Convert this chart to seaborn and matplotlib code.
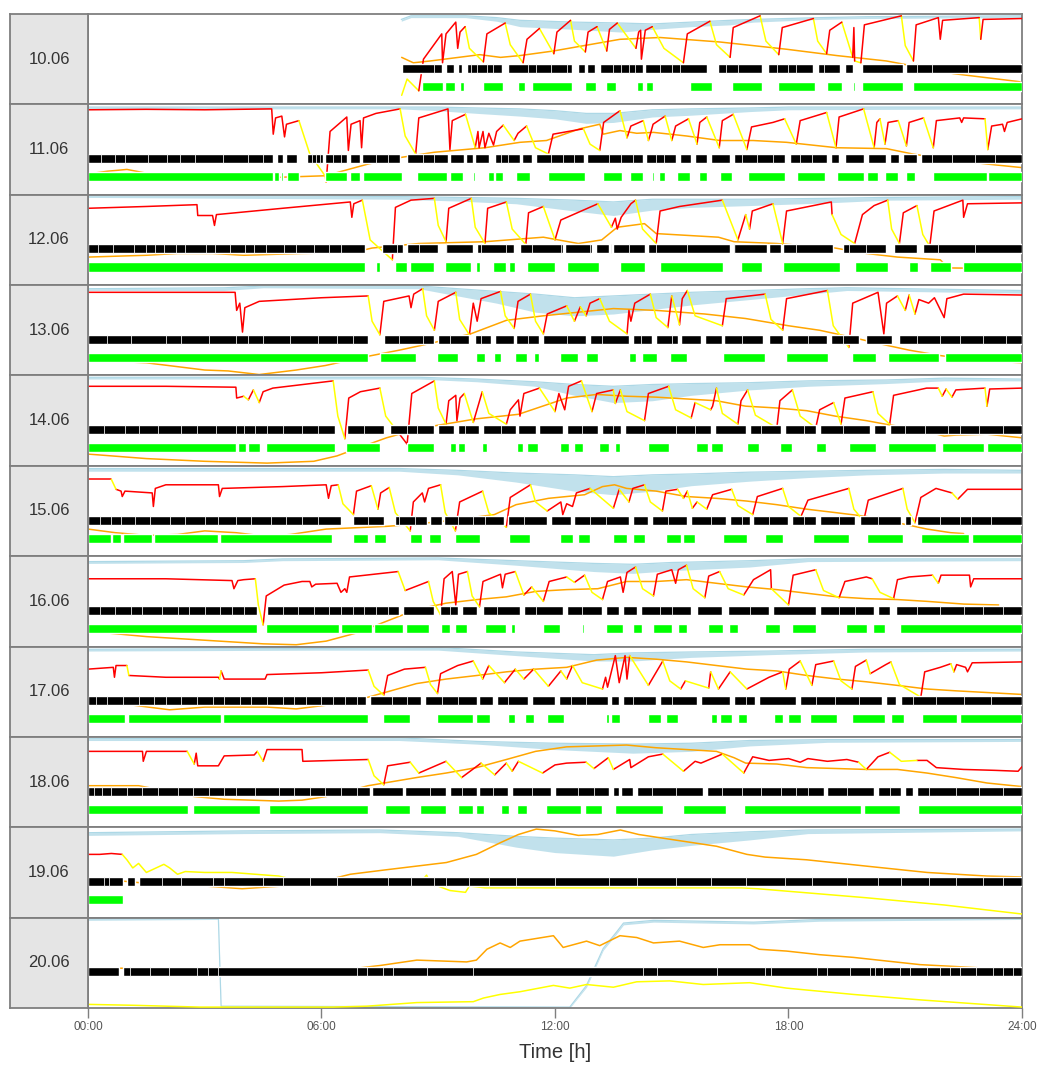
import numpy as np
import pandas as pd
import matplotlib
matplotlib.use("Agg")
import matplotlib.pyplot as plt
import seaborn as sns

sns.set_theme(style="white")
plt.rcParams['font.family'] = ['Liberation Sans', 'DejaVu Sans']

DAYS = ["10.06", "11.06", "12.06", "13.06", "14.06", "15.06", "16.06", "17.06", "18.06", "19.06", "20.06"]
TICK_HOURS = [0, 6, 12, 18, 24]
TICK_LABELS = ["00:00", "06:00", "12:00", "18:00", "24:00"]

# ---------------- 10.06 ----------------
RY_1006 = [(8.06,0.10,'y'),(8.20,0.28,'y'),(8.50,0.15,'r'),(8.62,0.50,'r'),(9.09,0.78,'r'),(9.11,0.46,'r'),(9.20,0.78,'r'),(9.45,0.91,'r'),(9.50,0.62,'r'),(9.56,0.80,'r'),(9.69,0.86,'y'),
           (9.80,0.62,'y'),(10.16,0.47,'r'),(10.25,0.78,'r'),(10.72,0.90,'y'),(10.85,0.66,'y'),(11.18,0.46,'r'),(11.28,0.72,'r'),(11.60,0.84,'y'),(11.97,0.56,'r'),(12.05,0.80,'r'),(12.40,0.93,'y'),
           (12.50,0.70,'y'),(12.78,0.58,'r'),(12.85,0.80,'r'),(13.08,0.86,'y'),(13.33,0.59,'r'),(13.40,0.83,'r'),(13.60,0.90,'y'),(14.08,0.62,'r'),(14.15,0.80,'r'),(14.20,0.82,'r'),(14.22,0.50,'r'),(14.32,0.82,'r'),(14.50,0.86,'y'),
           (14.80,0.62,'y'),(15.30,0.46,'r'),(15.40,0.78,'r'),(15.98,0.92,'y'),(16.15,0.66,'y'),(16.50,0.52,'r'),(16.58,0.85,'r'),(17.27,0.98,'y'),(17.42,0.70,'y'),(17.75,0.55,'r'),(17.84,0.85,'r'),(18.64,0.95,'y'),
           (18.75,0.70,'y'),(18.98,0.56,'r'),(19.06,0.82,'r'),(19.37,0.91,'y'),(19.65,0.52,'r'),(19.68,0.85,'r'),(19.70,0.48,'y'),(19.86,0.46,'r'),(19.95,0.88,'r'),(20.90,0.98,'y'),
           (21.00,0.65,'y'),(21.21,0.48,'r'),(21.28,0.88,'r'),(21.85,0.96,'r'),(21.90,0.72,'r'),(21.96,0.93,'r'),(22.90,0.96,'y'),(22.94,0.72,'r'),(23.00,0.94,'r'),(24.00,0.95,'r')]
OR_1006 = [(8.06,0.52),(8.36,0.46),(8.79,0.48),(10.07,0.55),(10.60,0.52),(11.10,0.54),(11.95,0.59),(13.67,0.72),(14.70,0.74),(16.24,0.69),(17.95,0.61),(19.24,0.54),(20.52,0.48),(21.38,0.41),(22.24,0.34),(23.95,0.25)]
LB_1006 = [(8.05,0.92,0.94),(8.3,0.96,0.98),(9.7,0.96,0.98),(10.5,0.92,0.96),(11.1,0.86,0.93),(12.5,0.83,0.91),(13.7,0.80,0.90),(14.5,0.83,0.89),(15.5,0.86,0.91),(16.5,0.88,0.93),(17.1,0.91,0.94),(18.8,0.94,0.96),(20.0,0.95,0.97),(24.0,0.96,0.98)]
BLK_1006 = [(8.06,9.09),(9.2,9.4),(9.5,9.62),(9.75,10.65),(10.8,12.43),(12.6,12.77),(12.81,13.02),(13.15,14.27),(14.31,15.9),(16.2,17.31),(17.48,18.64),(18.77,19.32),(19.45,19.67),(19.88,20.95),(21.03,24.0)]
GAP_1006 = [8.9,9.85,10.0,10.25,10.4,11.3,11.5,11.9,12.3,13.5,13.7,13.9,14.05,14.7,15.0,15.2,16.4,16.7,17.7,18.0,18.2,18.9,21.3,21.7,22.6]
GRN_1006 = [(8.57,9.12),(9.17,9.43),(9.56,9.67),(10.16,10.67),(11.06,11.23),(11.4,12.43),(12.78,13.05),(13.31,13.58),(14.1,14.27),(14.35,14.53),(15.47,16.03),(16.54,17.31),(17.74,18.68),(18.98,19.37),(19.67,19.70),(19.89,20.95),(21.21,24.0)]

# ---------------- 11.06 ----------------
RY_1106 = [(0,0.94,'r'),(1.5,0.945,'r'),(3.0,0.94,'r'),(4.72,0.95,'r'),(4.76,0.67,'r'),(4.82,0.85,'r'),(4.98,0.87,'r'),(5.05,0.64,'r'),(5.10,0.78,'r'),(5.42,0.82,'y'),(5.7,0.45,'y'),(6.09,0.21,'y'),(6.12,0.14,'r'),
           (6.22,0.70,'r'),(6.65,0.86,'r'),(6.69,0.49,'r'),(6.76,0.78,'r'),(6.99,0.82,'r'),(7.03,0.52,'r'),(7.08,0.85,'r'),(7.4,0.90,'r'),(8.02,0.95,'y'),(8.15,0.65,'y'),(8.42,0.45,'r'),(8.50,0.85,'r'),(9.25,0.95,'r'),
           (9.3,0.50,'r'),(9.36,0.82,'r'),(9.7,0.89,'y'),(9.95,0.52,'r'),(10.02,0.70,'r'),(10.05,0.52,'r'),(10.15,0.70,'r'),(10.2,0.52,'r'),(10.3,0.68,'r'),(10.42,0.55,'r'),(10.5,0.70,'r'),(10.67,0.77,'y'),
           (10.95,0.60,'r'),(11.05,0.68,'r'),(11.27,0.76,'y'),(11.5,0.52,'y'),(11.83,0.45,'r'),(11.95,0.67,'r'),(12.73,0.73,'y'),(12.9,0.56,'y'),(13.15,0.49,'r'),(13.25,0.80,'r'),(13.67,0.93,'y'),(13.85,0.63,'r'),(13.95,0.76,'r'),
           (14.27,0.82,'y'),(14.4,0.60,'r'),(14.45,0.67,'r'),(14.52,0.78,'r'),(14.83,0.87,'y'),(15.0,0.60,'r'),(15.1,0.76,'r'),(15.43,0.84,'y'),(15.65,0.56,'r'),(15.72,0.80,'r'),(15.9,0.86,'y'),
           (16.22,0.52,'r'),(16.3,0.82,'r'),(16.58,0.89,'y'),(16.93,0.50,'r'),(17.05,0.75,'r'),(17.6,0.80,'r'),(17.9,0.84,'y'),(18.2,0.56,'r'),(18.3,0.82,'r'),(18.98,0.91,'y'),(19.22,0.52,'r'),(19.3,0.86,'r'),
           (19.93,0.95,'y'),(20.2,0.52,'r'),(20.27,0.80,'r'),(20.35,0.84,'y'),(20.48,0.56,'r'),(20.56,0.80,'r'),(20.82,0.82,'y'),(21.03,0.54,'r'),(21.1,0.80,'r'),(21.47,0.85,'y'),(21.72,0.52,'r'),(21.8,0.82,'r'),
           (22.4,0.85,'r'),(22.45,0.80,'r'),(22.5,0.85,'r'),(23.05,0.84,'y'),(23.12,0.50,'r'),(23.22,0.76,'r'),(23.5,0.78,'r'),(23.55,0.70,'r'),(23.62,0.80,'r'),(24.0,0.84,'r')]
OR_1106 = [(0,0.23),(0.5,0.26),(1.0,0.28),(1.6,0.23),(2.5,0.20),(4.7,0.19),(6.1,0.21),(7.2,0.34),(8.0,0.41),(8.9,0.47),(10.2,0.52),(11.1,0.58),(11.78,0.60),(12.64,0.73),(13.15,0.78),(13.24,0.67),(13.67,0.71),(14.1,0.68),(14.53,0.69),(15.38,0.65),(16.24,0.60),(17.09,0.60),(17.95,0.58),(18.81,0.54),(19.24,0.52),(20.52,0.51),(21.2,0.45),(21.8,0.41),(23.09,0.34),(24.0,0.30)]
LB_1106 = [(0,0.95,0.97),(8.0,0.95,0.97),(9.0,0.93,0.97),(10.0,0.90,0.96),(11.1,0.87,0.95),(12.0,0.84,0.93),(12.8,0.79,0.90),(13.5,0.80,0.90),(14.5,0.86,0.94),(15.5,0.88,0.95),(17.0,0.92,0.96),(18.0,0.94,0.97),(24.0,0.95,0.97)]
BLK_1106 = [(0,4.76),(4.85,5.02),(5.1,5.37),(5.63,6.05),(6.1,6.65),(6.72,7.0),(7.05,8.02),(8.2,9.25),(9.3,9.65),(9.72,9.9),(9.95,10.3),(10.45,11.1),(11.15,11.4),(11.5,12.75),(12.82,14.27),(14.35,15.1),(15.2,15.5),(15.6,15.9),(16.0,16.5),(16.6,17.9),(18.05,19.0),(19.1,19.3),(19.45,19.95),(20.05,20.5),(20.6,20.85),(20.95,21.3),(21.4,24.0)]
GAP_1106 = [0.33,0.69,0.95,1.55,2.02,2.37,2.75,3.48,4.12,4.5,5.75,5.85,5.95,6.3,6.5,7.4,7.7,8.6,8.9,10.6,10.8,11.9,12.2,12.5,13.4,13.7,14.0,14.6,14.8,16.8,17.2,17.6,18.3,18.6,21.7,22.2,22.8,23.3]
GRN_1106 = [(0,4.76),(4.78,4.92),(4.96,5.02),(5.12,5.41),(6.09,6.65),(6.73,6.99),(7.07,8.06),(8.45,9.22),(9.3,9.64),(9.9,9.95),(10.05,10.08),(10.29,10.42),(10.46,10.67),(11.0,11.36),(11.83,12.77),(13.24,13.71),(13.93,14.27),(14.5,14.55),(14.66,14.83),(15.13,15.47),(15.69,15.9),(16.24,16.54),(16.97,17.91),(18.21,18.94),(19.24,19.93),(20.02,20.31),(20.48,20.82),(21.03,21.25),(21.72,23.09),(23.13,24.0)]

# ---------------- 12.06 ----------------
RY_1206 = [(0,0.85,'r'),(1.5,0.87,'r'),(2.8,0.89,'r'),(2.82,0.77,'r'),(3.2,0.77,'r'),(3.25,0.66,'r'),(3.3,0.78,'r'),(5.0,0.85,'r'),(6.74,0.92,'r'),(6.78,0.75,'r'),(6.83,0.90,'r'),(7.05,0.94,'y'),(7.25,0.50,'y'),(7.82,0.28,'r'),
           (7.90,0.86,'r'),(8.3,0.94,'r'),(8.9,0.96,'y'),(9.0,0.66,'y'),(9.2,0.48,'r'),(9.27,0.85,'r'),(9.85,0.96,'y'),(9.95,0.64,'y'),(10.2,0.46,'r'),(10.27,0.85,'r'),(10.75,0.92,'y'),(10.9,0.62,'y'),(11.25,0.45,'r'),(11.32,0.80,'r'),(11.7,0.87,'y'),
           (12.0,0.50,'r'),(12.15,0.72,'r'),(13.1,0.90,'y'),(13.45,0.64,'r'),(13.55,0.74,'r'),(13.6,0.62,'r'),(13.7,0.75,'r'),(13.95,0.90,'r'),(14.07,0.94,'y'),(14.25,0.62,'y'),(14.6,0.46,'r'),(14.7,0.82,'r'),(15.2,0.87,'r'),
           (16.3,0.94,'y'),(16.7,0.50,'r'),(16.9,0.78,'y'),(17.0,0.62,'r'),(17.07,0.82,'r'),(17.6,0.90,'y'),(17.85,0.46,'r'),(17.95,0.82,'r'),(19.1,0.92,'r'),(19.12,0.78,'y'),(19.35,0.56,'y'),(19.7,0.46,'r'),(19.9,0.78,'r'),
           (20.2,0.88,'r'),(20.55,0.94,'y'),(20.65,0.62,'y'),(20.85,0.46,'r'),(20.95,0.80,'r'),(21.3,0.88,'y'),(21.45,0.56,'y'),(21.63,0.43,'r'),(21.74,0.82,'r'),(22.48,0.94,'r'),(22.5,0.75,'r'),(22.6,0.90,'r'),(24.0,0.91,'r')]
OR_1206 = [(0,0.31),(1.5,0.33),(2.3,0.35),(3.2,0.35),(4.0,0.33),(5.5,0.35),(6.8,0.36),(7.3,0.41),(8.5,0.46),(10.2,0.48),(11.4,0.52),(11.7,0.53),(12.6,0.46),(13.2,0.50),(13.6,0.64),(14.3,0.68),(14.6,0.57),(15.4,0.55),(16.2,0.53),(16.6,0.48),(17.7,0.46),(19.2,0.41),(20.0,0.35),(20.8,0.31),(21.9,0.28),(22.1,0.19),(24.0,0.18)]
LB_1206 = [(0,0.97,0.99),(4,0.96,0.99),(8,0.95,0.98),(9.5,0.93,0.97),(11,0.90,0.96),(12.5,0.82,0.94),(13.5,0.77,0.92),(14.5,0.83,0.95),(15.5,0.86,0.95),(17,0.88,0.95),(19,0.91,0.96),(20.5,0.94,0.97),(24,0.95,0.98)]
BLK_1206 = [(0,7.12),(7.55,8.1),(8.2,9.0),(9.2,9.9),(10.0,10.95),(11.1,12.2),(12.25,12.95),(13.05,13.4),(13.5,14.3),(14.4,16.5),(16.6,17.45),(17.5,17.8),(17.85,19.15),(19.4,20.5),(20.7,21.3),(21.45,24.0)]
GAP_1206 = [0.26,0.64,1.18,1.49,1.72,1.96,2.26,2.5,3.04,3.27,3.65,4.04,4.27,4.58,5.04,5.35,5.8,6.2,6.5,7.95,8.5,9.2,10.1,10.75,11.4,12.15,12.9,13.45,13.9,14.6,15.4,16.6,18.2,19.55,20.0,21.85,22.8]
GRN_1206 = [(0,7.13),(7.4,7.5),(7.9,8.2),(8.28,8.9),(9.18,9.83),(9.98,10.06),(10.41,10.75),(10.83,10.98),(11.29,11.99),(12.3,13.14),(13.68,14.3),(14.69,16.31),(16.77,17.31),(17.85,19.32),(19.7,20.55),(21.09,21.32),(21.63,22.17),(22.48,24.0)]

# ---------------- 13.06 ----------------
RY_1306 = [(0,0.92,'r'),(2.0,0.92,'r'),(3.78,0.92,'r'),(3.82,0.72,'r'),(3.9,0.80,'r'),(3.97,0.48,'r'),(4.03,0.75,'r'),(4.4,0.82,'r'),(6.0,0.86,'r'),(7.2,0.88,'y'),(7.3,0.60,'y'),(7.5,0.45,'r'),(7.6,0.82,'r'),(8.25,0.88,'r'),
           (8.3,0.75,'r'),(8.37,0.90,'r'),(8.6,0.96,'y'),(8.7,0.66,'y'),(8.9,0.50,'r'),(9.0,0.82,'r'),(9.45,0.92,'y'),(9.55,0.62,'y'),(9.8,0.45,'r'),(9.9,0.80,'r'),(10.0,0.60,'r'),(10.1,0.85,'r'),(10.6,0.93,'y'),(10.72,0.66,'y'),(10.95,0.52,'r'),
           (11.05,0.82,'r'),(11.37,0.90,'y'),(11.5,0.60,'y'),(11.7,0.46,'r'),(11.8,0.68,'r'),(12.3,0.77,'y'),(12.5,0.60,'r'),(12.65,0.76,'y'),(12.8,0.66,'r'),(12.9,0.80,'r'),(13.15,0.85,'y'),(13.4,0.60,'y'),(13.85,0.46,'r'),(13.9,0.72,'r'),
           (13.95,0.60,'r'),(14.05,0.80,'r'),(14.45,0.90,'y'),(14.6,0.64,'y'),(14.9,0.53,'r'),(15.0,0.88,'y'),(15.2,0.56,'r'),(15.27,0.85,'r'),(15.4,0.94,'y'),(15.6,0.66,'y'),(16.3,0.55,'r'),(16.4,0.85,'r'),(17.4,0.90,'y'),(17.55,0.62,'y'),(17.85,0.50,'r'),
           (17.95,0.85,'r'),(19.0,0.94,'y'),(19.15,0.55,'y'),(19.55,0.31,'r'),(19.65,0.80,'r'),(20.3,0.92,'r'),(20.45,0.46,'r'),(20.52,0.80,'r'),(20.8,0.88,'y'),(21.0,0.72,'r'),(21.1,0.89,'y'),(21.25,0.68,'r'),(21.35,0.84,'r'),
           (21.6,0.80,'r'),(21.75,0.86,'r'),(22.0,0.64,'r'),(22.07,0.85,'r'),(22.5,0.90,'r'),(24.0,0.89,'r')]
OR_1306 = [(0,0.17),(1.5,0.14),(3.0,0.06),(3.6,0.05),(4.4,0.01),(5.35,0.06),(6.1,0.11),(7.05,0.20),(8.0,0.28),(8.75,0.35),(9.83,0.46),(10.75,0.61),(11.7,0.66),(12.6,0.70),(13.5,0.74),(14.6,0.72),(15.85,0.68),(16.9,0.63),(18.0,0.55),(18.8,0.50),(19.55,0.43),(20.35,0.35),(21.1,0.28),(21.9,0.22),(22.8,0.17),(24.0,0.14)]
LB_1306 = [(0,0.94,0.96),(3.5,0.94,0.97),(4.5,0.97,0.99),(8.5,0.96,0.99),(9.5,0.88,0.96),(10.5,0.80,0.93),(11.5,0.70,0.90),(12.5,0.66,0.86),(13.5,0.68,0.88),(14.5,0.73,0.90),(15.5,0.78,0.92),(17.0,0.84,0.94),(18.5,0.90,0.96),(19.5,0.94,0.97),(24.0,0.91,0.94)]
BLK_1306 = [(0,7.2),(7.6,8.9),(9.0,9.8),(9.95,10.35),(10.45,10.95),(11.0,11.6),(11.7,12.8),(12.9,13.9),(14.0,14.5),(14.6,15.15),(15.25,15.75),(15.85,16.3),(16.35,17.35),(17.5,17.85),(17.95,19.0),(19.1,19.8),(20.0,20.65),(20.85,24.0)]
GAP_1306 = [0.5,1.1,2.0,2.4,3.1,3.8,4.1,4.5,5.2,5.9,6.4,6.8,8.0,8.6,9.3,10.1,11.3,12.3,13.2,14.2,15.0,16.8,18.5,19.4,21.3,21.9,22.4,23.0,23.6]
GRN_1306 = [(0,7.2),(7.51,8.44),(8.98,9.52),(9.98,10.21),(10.44,10.6),(10.98,11.29),(11.45,11.6),(12.14,12.6),(12.8,13.1),(13.9,14.07),(14.23,14.61),(14.95,15.38),(16.31,17.39),(17.93,19.01),(19.63,20.24),(20.55,21.86),(22.02,24.0)]

# ---------------- 14.06 ----------------
RY_1406 = [(0,0.88,'r'),(2.0,0.88,'r'),(3.8,0.87,'r'),(3.82,0.75,'r'),(4.0,0.77,'y'),(4.12,0.73,'r'),(4.25,0.84,'y'),(4.4,0.70,'r'),(4.5,0.82,'r'),(4.75,0.86,'r'),(6.3,0.94,'y'),(6.42,0.55,'y'),(6.6,0.30,'r'),
           (6.7,0.75,'r'),(7.0,0.82,'r'),(7.5,0.86,'y'),(7.65,0.55,'y'),(7.97,0.37,'r'),(8.2,0.24,'r'),(8.32,0.80,'r'),(8.9,0.94,'y'),(9.0,0.64,'y'),(9.2,0.46,'r'),(9.27,0.72,'r'),(9.45,0.78,'r'),(9.48,0.50,'r'),(9.56,0.75,'r'),
           (9.67,0.80,'y'),(9.9,0.48,'r'),(10.13,0.82,'y'),(10.3,0.58,'y'),(10.75,0.46,'r'),(10.85,0.62,'r'),(11.06,0.73,'r'),(11.1,0.55,'r'),(11.2,0.80,'r'),(11.6,0.86,'y'),(12.0,0.60,'r'),(12.1,0.80,'r'),
           (12.25,0.62,'r'),(12.35,0.88,'r'),(12.68,0.94,'y'),(12.95,0.60,'r'),(13.07,0.80,'r'),(13.5,0.84,'y'),(13.55,0.69,'r'),(13.68,0.84,'y'),(13.85,0.60,'y'),(14.3,0.50,'r'),(14.4,0.80,'r'),(14.92,0.88,'y'),
           (15.1,0.62,'y'),(15.5,0.53,'r'),(15.6,0.70,'y'),(16.0,0.62,'r'),(16.05,0.66,'r'),(16.15,0.86,'y'),(16.3,0.58,'y'),(16.7,0.46,'r'),(16.78,0.72,'r'),(16.95,0.84,'y'),(17.15,0.56,'y'),(17.7,0.42,'r'),(17.78,0.72,'r'),(18.1,0.84,'y'),
           (18.3,0.55,'y'),(18.7,0.42,'r'),(18.8,0.62,'r'),(19.16,0.70,'y'),(19.35,0.46,'r'),(19.45,0.75,'r'),(20.17,0.82,'y'),(20.3,0.58,'y'),(20.6,0.46,'r'),(20.7,0.78,'r'),(21.55,0.86,'r'),(21.85,0.86,'y'),(21.95,0.77,'r'),
           (22.05,0.85,'y'),(22.2,0.76,'r'),(22.3,0.84,'r'),(23.05,0.86,'y'),(23.1,0.66,'r'),(23.17,0.85,'r'),(24.0,0.86,'r')]
OR_1406 = [(0,0.13),(1.5,0.08),(3.0,0.05),(4.6,0.03),(5.8,0.05),(6.4,0.11),(6.9,0.19),(7.67,0.31),(8.59,0.42),(9.98,0.52),(11.06,0.57),(11.68,0.66),(12.3,0.75),(13.07,0.79),(13.84,0.77),(14.6,0.76),(15.38,0.74),(16.15,0.72),(16.9,0.66),(17.7,0.64),(18.47,0.61),(19.2,0.55),(20.0,0.50),(20.5,0.46),(21.25,0.41),(22.0,0.33),(22.3,0.34),(23.1,0.35),(24.0,0.31)]
LB_1406 = [(0,0.96,0.98),(8.5,0.96,0.98),(10,0.93,0.96),(11.5,0.88,0.93),(12.5,0.78,0.90),(13.5,0.70,0.88),(14.5,0.72,0.90),(15.5,0.78,0.91),(17,0.84,0.92),(18.5,0.88,0.94),(20.5,0.91,0.95),(22,0.94,0.97),(24,0.94,0.96)]
BLK_1406 = [(0,6.35),(6.66,7.6),(7.75,8.9),(9.0,9.4),(9.5,10.05),(10.15,11.0),(11.05,11.5),(11.6,12.2),(12.3,13.1),(13.2,13.7),(13.8,16.0),(16.1,16.9),(17.0,17.8),(17.9,18.7),(18.8,20.1),(20.2,20.5),(20.6,24.0)]
GAP_1406 = [0.4,0.95,1.3,1.8,2.4,2.8,3.3,3.8,4.0,4.3,4.6,5.0,5.5,5.9,7.1,8.2,8.45,9.7,10.6,12.7,13.5,14.3,15.1,15.6,17.3,18.4,19.4,21.0,21.5,22.1,22.4,22.9,23.5]
GRN_1406 = [(0,3.8),(3.85,4.05),(4.1,4.42),(4.58,6.35),(6.62,7.51),(8.2,8.9),(9.29,9.46),(9.52,9.7),(10.13,10.26),(11.03,11.18),(11.29,11.56),(12.14,12.37),(12.48,12.73),(13.14,13.38),(13.53,13.68),(14.38,14.92),(15.62,15.92),(16.0,16.31),(16.93,17.23),(17.78,18.08),(18.7,18.96),(19.55,20.24),(20.55,21.79),(21.94,23.02),(23.1,24.0)]

# ---------------- 15.06 ----------------
RY_1506 = [(0,0.85,'r'),(0.6,0.85,'y'),(0.72,0.74,'r'),(0.85,0.72,'r'),(0.88,0.66,'r'),(0.95,0.72,'r'),(1.65,0.70,'r'),(1.68,0.55,'r'),(1.73,0.75,'r'),(2.0,0.79,'r'),(3.35,0.79,'r'),(3.38,0.66,'r'),
           (3.45,0.75,'r'),(5.0,0.77,'r'),(6.12,0.79,'r'),(6.18,0.64,'r'),(6.25,0.78,'r'),(6.43,0.79,'y'),(6.55,0.58,'y'),(6.82,0.46,'r'),(6.9,0.72,'r'),(7.28,0.78,'y'),(7.45,0.52,'r'),(7.52,0.70,'r'),(7.74,0.76,'y'),
           (7.9,0.48,'y'),(8.28,0.28,'r'),(8.36,0.60,'r'),(8.59,0.70,'r'),(8.65,0.60,'r'),(8.75,0.75,'r'),(9.06,0.79,'y'),(9.18,0.48,'y'),(9.44,0.28,'r'),(9.55,0.60,'r'),(10.14,0.72,'y'),(10.3,0.48,'y'),(10.75,0.32,'r'),(10.85,0.65,'r'),(11.37,0.79,'y'),
           (11.5,0.60,'y'),(11.8,0.50,'r'),(12.15,0.60,'r'),(12.2,0.46,'r'),(12.3,0.58,'r'),(12.45,0.55,'r'),(12.55,0.70,'r'),(12.9,0.75,'y'),(13.5,0.53,'r'),(13.65,0.74,'y'),(13.9,0.60,'r'),(14.0,0.75,'r'),(14.3,0.79,'y'),
           (14.45,0.60,'y'),(14.76,0.50,'r'),(14.85,0.72,'r'),(15.15,0.74,'y'),(15.3,0.64,'r'),(15.4,0.72,'y'),(15.53,0.53,'r'),(15.65,0.60,'y'),(15.9,0.52,'r'),(16.05,0.68,'r'),(16.54,0.74,'y'),(16.7,0.56,'y'),(17.08,0.46,'r'),(17.2,0.66,'r'),
           (17.85,0.75,'y'),(18.0,0.55,'y'),(18.32,0.44,'r'),(18.5,0.62,'r'),(19.55,0.75,'y'),(19.68,0.52,'y'),(19.93,0.39,'r'),(20.05,0.62,'r'),(20.94,0.75,'y'),(21.05,0.52,'y'),(21.25,0.37,'r'),(21.4,0.65,'r'),(21.79,0.75,'r'),(22.2,0.70,'y'),(22.35,0.63,'r'),
           (22.6,0.74,'r'),(24.0,0.74,'r')]
OR_1506 = [(0,0.30),(0.7,0.26),(1.5,0.23),(2.3,0.24),(3.0,0.28),(3.8,0.26),(4.58,0.22),(5.2,0.24),(6.12,0.30),(7.67,0.33),(8.28,0.35),(9.2,0.39),(10.44,0.46),(11.0,0.57),(11.83,0.64),(12.76,0.68),(13.22,0.77),(13.53,0.79),(13.84,0.75),(14.6,0.72),(15.38,0.66),(16.15,0.64),(16.93,0.61),(17.7,0.57),(18.47,0.52),(19.25,0.48),(20.0,0.44),(20.8,0.37),(21.56,0.30),(22.17,0.26),(22.5,0.25)]
LB_1506 = [(0,0.94,0.97),(8,0.94,0.97),(9.5,0.90,0.95),(11,0.82,0.92),(12.5,0.72,0.90),(13.5,0.68,0.88),(14.5,0.72,0.90),(15.5,0.78,0.91),(17,0.83,0.93),(18.5,0.87,0.94),(20,0.90,0.95),(22,0.92,0.96),(24,0.92,0.95)]
BLK_1506 = [(0,6.5),(6.8,7.6),(7.9,8.7),(8.8,9.1),(9.15,10.7),(10.8,11.8),(11.9,12.4),(12.5,13.9),(14.0,14.4),(14.5,15.4),(15.5,16.4),(16.5,17.0),(17.1,18.0),(18.1,18.7),(18.8,19.7),(19.85,20.9),(21.0,21.15),(21.3,24.0)]
GAP_1506 = [0.3,0.6,0.85,1.2,1.6,2.1,2.5,3.0,3.35,3.8,4.2,4.7,5.1,5.5,5.9,7.2,8.0,8.4,9.5,9.9,10.2,11.2,12.9,13.3,14.9,16.0,16.8,17.5,18.4,19.3,20.3,21.9,22.4,22.7,23.2]
GRN_1506 = [(0,0.58),(0.62,0.85),(0.9,1.65),(1.7,3.35),(3.4,6.28),(6.82,7.2),(7.36,7.67),(8.28,8.59),(8.75,9.06),(9.44,10.06),(10.83,11.37),(12.14,12.45),(12.6,12.91),(13.5,13.84),(14.0,14.3),(14.84,15.23),(15.3,15.6),(16.31,16.93),(17.39,17.85),(18.62,19.55),(20.01,20.94),(21.4,22.63),(22.71,24.0)]

# ---------------- 16.06 ----------------
RY_1606 = [(0,0.75,'r'),(2.0,0.75,'r'),(3.7,0.73,'r'),(3.75,0.64,'r'),(3.85,0.73,'r'),(4.0,0.74,'r'),(4.3,0.75,'y'),(4.38,0.45,'y'),(4.5,0.24,'r'),(4.58,0.56,'r'),(5.04,0.68,'r'),(5.5,0.72,'r'),(5.7,0.72,'r'),
           (5.75,0.66,'r'),(5.85,0.69,'r'),(6.4,0.70,'r'),(6.5,0.60,'r'),(6.6,0.64,'r'),(6.65,0.60,'r'),(6.72,0.77,'r'),(7.97,0.83,'y'),(8.15,0.62,'r'),(8.75,0.72,'y'),(8.87,0.50,'y'),(9.06,0.35,'r'),(9.15,0.75,'r'),
           (9.36,0.83,'r'),(9.45,0.46,'r'),(9.52,0.80,'r'),(9.75,0.83,'y'),(9.87,0.56,'y'),(10.06,0.44,'r'),(10.15,0.72,'r'),(10.6,0.80,'r'),(10.65,0.65,'r'),(10.72,0.80,'r'),(10.98,0.83,'y'),(11.2,0.57,'r'),(11.4,0.66,'y'),
           (11.7,0.50,'r'),(11.85,0.72,'r'),(12.3,0.77,'y'),(12.5,0.71,'r'),(12.76,0.79,'y'),(12.95,0.60,'y'),(13.22,0.52,'r'),(13.35,0.72,'r'),(13.68,0.77,'r'),(13.75,0.60,'r'),(13.85,0.82,'r'),(14.07,0.88,'y'),(14.25,0.64,'y'),(14.53,0.56,'r'),
           (14.63,0.80,'r'),(15.0,0.85,'r'),(15.1,0.70,'r'),(15.17,0.85,'r'),(15.38,0.90,'y'),(15.55,0.64,'y'),(15.85,0.54,'r'),(15.95,0.78,'r'),(16.23,0.83,'y'),(16.45,0.64,'y'),(16.85,0.57,'r'),(17.1,0.74,'r'),(17.54,0.85,'r'),(17.56,0.64,'y'),
           (18.0,0.46,'r'),(18.12,0.79,'r'),(18.7,0.85,'y'),(18.9,0.62,'y'),(19.3,0.54,'r'),(19.45,0.72,'r'),(20.0,0.77,'r'),(20.15,0.75,'y'),(20.35,0.60,'y'),(20.7,0.53,'r'),(20.8,0.74,'r'),(21.1,0.77,'r'),(21.7,0.79,'y'),(21.85,0.70,'r'),
           (21.92,0.79,'r'),(22.65,0.79,'r'),(22.68,0.66,'r'),(22.76,0.75,'r'),(24.0,0.75,'r')]
OR_1606 = [(0,0.17),(1.5,0.11),(3.0,0.07),(4.5,0.03),(5.35,0.02),(6.12,0.06),(6.9,0.15),(7.67,0.28),(8.44,0.41),(9.2,0.48),(10.0,0.52),(10.75,0.55),(11.5,0.61),(12.3,0.63),(13.1,0.64),(13.84,0.72),(14.6,0.72),(15.38,0.74),(16.15,0.70),(16.93,0.66),(17.7,0.63),(18.47,0.59),(19.25,0.55),(20.0,0.53),(20.8,0.52),(21.56,0.50),(22.5,0.47),(23.4,0.46)]
LB_1606 = [(0,0.92,0.94),(4,0.93,0.95),(5,0.95,0.97),(9,0.96,0.98),(11,0.90,0.95),(13,0.83,0.92),(14,0.81,0.91),(15,0.84,0.93),(17,0.88,0.95),(18.5,0.94,0.97),(24,0.95,0.97)]
BLK_1606 = [(0,4.35),(4.6,8.0),(8.1,8.9),(9.05,9.5),(9.6,10.0),(10.15,11.1),(11.2,12.2),(12.3,13.2),(13.3,13.65),(13.75,14.1),(14.2,15.5),(15.65,16.3),(16.45,17.5),(17.6,18.7),(18.8,20.2),(20.3,20.6),(20.75,24.0)]
GAP_1606 = [0.3,0.7,1.1,1.4,1.9,2.3,2.6,3.0,3.4,3.7,4.0,5.0,5.4,5.8,6.2,6.5,6.8,7.1,7.4,7.7,9.3,10.5,11.5,12.7,14.7,15.0,17.0,19.3,19.7,21.3,21.9,22.5,23.0,23.5]
GRN_1606 = [(0,4.35),(4.58,6.45),(6.5,7.3),(7.35,8.1),(8.16,8.75),(9.06,9.29),(9.44,9.75),(10.21,10.75),(10.88,10.98),(11.2,11.24),(11.68,12.14),(12.7,12.75),(13.3,13.76),(14.0,14.23),(14.53,15.0),(15.15,15.38),(15.92,16.31),(16.46,16.69),(17.39,17.78),(18.08,18.7),(19.47,20.01),(20.17,20.48),(20.86,24.0)]

# ---------------- 17.06 ----------------
RY_1706 = [(0,0.75,'r'),(0.65,0.77,'r'),(0.68,0.66,'r'),(0.72,0.79,'r'),(1.0,0.79,'y'),(1.05,0.68,'r'),(2.0,0.66,'r'),(3.35,0.66,'r'),(3.38,0.64,'y'),(3.42,0.73,'r'),(3.5,0.64,'r'),(4.55,0.64,'r'),
           (4.6,0.69,'r'),(6.0,0.71,'r'),(7.2,0.74,'y'),(7.35,0.56,'y'),(7.6,0.46,'r'),(7.7,0.68,'r'),(8.13,0.75,'r'),(8.67,0.77,'y'),(8.8,0.58,'y'),(8.98,0.48,'r'),(9.06,0.70,'r'),(9.5,0.79,'r'),(9.9,0.84,'y'),(10.14,0.64,'r'),
           (10.3,0.79,'y'),(10.7,0.60,'r'),(10.98,0.75,'y'),(11.2,0.64,'r'),(11.45,0.75,'y'),(11.83,0.56,'r'),(12.15,0.73,'y'),(12.3,0.64,'r'),(12.45,0.79,'y'),(12.7,0.60,'y'),(13.22,0.53,'r'),(13.3,0.66,'r'),(13.35,0.55,'r'),
           (13.55,0.90,'r'),(13.65,0.60,'r'),(13.8,0.90,'r'),(13.85,0.64,'r'),(13.92,0.90,'y'),(14.4,0.57,'r'),(14.77,0.84,'y'),(14.95,0.62,'y'),(15.23,0.53,'r'),(15.35,0.62,'y'),(15.95,0.54,'r'),(16.0,0.72,'y'),(16.2,0.53,'r'),
           (16.5,0.72,'y'),(16.93,0.53,'r'),(17.5,0.66,'r'),(17.85,0.72,'y'),(17.93,0.53,'r'),(18.02,0.75,'r'),(18.3,0.84,'y'),(18.6,0.57,'r'),(18.7,0.80,'r'),(19.16,0.84,'y'),(19.35,0.62,'y'),(19.63,0.53,'r'),(19.72,0.78,'r'),
           (20.0,0.85,'y'),(20.1,0.70,'r'),(20.5,0.80,'r'),(20.63,0.83,'y'),(20.85,0.58,'y'),(21.4,0.44,'r'),(21.5,0.72,'r'),(21.9,0.77,'r'),(22.17,0.81,'y'),(22.25,0.72,'r'),(22.32,0.80,'r'),(22.55,0.77,'r'),(22.6,0.72,'r'),
           (22.72,0.82,'r'),(24.0,0.83,'r')]
OR_1706 = [(0,0.36),(1.0,0.36),(2.1,0.30),(3.0,0.33),(4.6,0.33),(5.35,0.31),(6.1,0.35),(7.2,0.44),(7.7,0.50),(8.44,0.59),(9.2,0.64),(10.0,0.68),(10.75,0.72),(11.5,0.75),(12.3,0.77),(13.07,0.85),(13.84,0.88),(14.6,0.86),(15.38,0.83),(16.15,0.79),(16.93,0.75),(17.7,0.73),(18.47,0.68),(19.25,0.64),(20.0,0.61),(20.8,0.57),(21.56,0.53),(22.3,0.51),(24.0,0.47)]
LB_1706 = [(0,0.95,0.97),(6,0.96,0.98),(9,0.96,0.99),(11,0.90,0.94),(13,0.84,0.91),(14,0.84,0.93),(15.5,0.88,0.94),(17.5,0.91,0.95),(20,0.94,0.97),(24,0.95,0.97)]
BLK_1706 = [(0,7.15),(7.25,8.55),(8.65,10.0),(10.05,10.4),(10.5,11.3),(11.4,12.0),(12.1,13.35),(13.45,13.65),(13.75,14.6),(14.7,15.65),(15.75,16.5),(16.6,17.15),(17.25,18.2),(18.3,20.4),(20.5,20.75),(20.9,24.0)]
GAP_1706 = [0.2,0.5,0.9,1.3,1.7,2.0,2.4,2.8,3.2,3.5,3.9,4.2,4.6,5.0,5.3,5.6,6.0,6.3,6.6,6.9,7.8,8.2,9.1,9.5,10.8,12.4,12.8,14.0,15.0,16.9,18.7,19.2,19.8,21.2,21.8,22.5,23.2]
GRN_1706 = [(0,0.95),(1.03,3.42),(3.47,7.2),(7.59,8.28),(8.98,9.9),(9.98,10.32),(10.78,10.98),(11.22,11.45),(11.8,12.22),(13.3,13.4),(13.45,13.68),(14.38,14.73),(14.84,15.15),(16.0,16.15),(16.23,16.54),(16.69,16.93),(17.62,17.85),(18.0,18.31),(18.55,19.24),(19.63,20.48),(20.63,20.97),(21.43,22.33),(22.4,24.0)]

# ---------------- 18.06 ----------------
RY_1806 = [(0,0.84,'r'),(1.4,0.84,'r'),(1.42,0.73,'r'),(1.5,0.84,'r'),(2.55,0.84,'y'),(2.73,0.70,'r'),(2.78,0.82,'r'),(2.82,0.68,'r'),(3.35,0.68,'r'),(3.5,0.79,'r'),(4.27,0.80,'r'),(4.35,0.84,'y'),
           (4.5,0.73,'r'),(4.6,0.86,'r'),(5.5,0.86,'r'),(5.52,0.73,'r'),(7.2,0.75,'y'),(7.35,0.57,'y'),(7.6,0.47,'r'),(7.7,0.68,'r'),(8.28,0.72,'y'),(8.5,0.60,'r'),(9.2,0.73,'y'),(9.6,0.55,'r'),(10.1,0.71,'y'),
           (10.45,0.58,'r'),(10.75,0.71,'y'),(10.9,0.62,'r'),(11.06,0.73,'y'),(11.68,0.60,'r'),(12.0,0.69,'r'),(12.3,0.71,'r'),(12.8,0.72,'y'),(13.0,0.65,'r'),(13.37,0.77,'y'),(13.5,0.64,'r'),(13.92,0.75,'r'),
           (13.95,0.66,'r'),(14.4,0.78,'r'),(14.77,0.81,'y'),(15.3,0.62,'r'),(15.6,0.73,'r'),(15.75,0.71,'r'),(16.3,0.81,'y'),(16.85,0.60,'r'),(17.08,0.78,'r'),(17.5,0.74,'r'),(18.0,0.76,'r'),(18.3,0.72,'r'),
           (18.5,0.76,'r'),(19.0,0.73,'r'),(19.5,0.75,'r'),(19.8,0.72,'y'),(20.0,0.64,'r'),(20.3,0.78,'r'),(20.6,0.83,'y'),(20.9,0.73,'y'),(21.3,0.74,'r'),(21.56,0.74,'r'),(21.8,0.66,'r'),(22.5,0.64,'r'),
           (23.3,0.63,'r'),(23.9,0.62,'r'),(24.0,0.67,'r')]
OR_1806 = [(0,0.46),(1.3,0.46),(1.8,0.42),(2.73,0.34),(3.5,0.31),(4.9,0.29),(5.5,0.30),(6.12,0.34),(7.2,0.46),(8.44,0.55),(9.2,0.60),(9.98,0.66),(10.75,0.75),(11.5,0.84),(12.3,0.89),(13.07,0.90),(13.84,0.91),(14.6,0.88),(15.38,0.86),(16.15,0.84),(16.6,0.77),(16.9,0.71),(17.7,0.70),(18.47,0.66),(19.25,0.65),(20.0,0.64),(20.8,0.64),(21.56,0.60),(22.3,0.55),(23.1,0.49),(24.0,0.45)]
LB_1806 = [(0,0.96,0.98),(8,0.96,0.99),(10,0.92,0.95),(12,0.86,0.93),(14,0.82,0.92),(15.5,0.84,0.93),(17,0.90,0.96),(19,0.94,0.97),(24,0.95,0.97)]
BLK_1806 = [(0,7.25),(7.3,8.1),(8.15,9.2),(9.3,10.0),(10.05,10.8),(10.9,11.9),(12.0,13.4),(13.5,13.65),(13.7,14.0),(14.1,15.8),(15.9,18.9),(19.0,20.2),(20.3,20.9),(21.0,21.2),(21.3,24.0)]
GAP_1806 = [0.15,0.35,0.6,1.0,1.4,1.8,2.3,2.7,3.1,3.5,3.8,4.3,4.9,5.3,5.7,6.1,6.5,6.9,8.8,9.6,10.4,11.4,12.6,13.0,14.5,15.1,16.3,16.8,17.3,17.8,18.2,18.5,19.5,20.6,21.6,22.3,22.9,23.5]
GRN_1806 = [(0,2.57),(2.7,4.43),(4.66,7.2),(7.64,8.28),(8.52,9.21),(9.52,9.9),(9.98,10.17),(10.6,10.83),(11.03,11.29),(11.76,12.68),(12.76,13.22),(13.53,14.77),(15.3,16.39),(16.85,19.86),(19.93,20.86),(21.32,24.0)]

# ---------------- 19.06 ----------------
RY_1906 = [(0,0.70,'r'),(0.3,0.70,'r'),(0.6,0.71,'r'),(0.88,0.70,'y'),(1.0,0.64,'y'),(1.15,0.55,'y'),(1.3,0.60,'y'),(1.5,0.50,'y'),(1.95,0.59,'y'),(2.1,0.55,'y'),(2.3,0.48,'y'),(2.5,0.51,'y'),(3.0,0.50,'y'),
           (3.7,0.50,'y'),(4.3,0.48,'y'),(4.9,0.46,'y'),(5.5,0.40,'y'),(6.5,0.38,'y'),(8.0,0.39,'y'),(8.6,0.42,'y'),(8.7,0.47,'y'),(8.8,0.38,'y'),(9.3,0.30,'y'),(9.7,0.28,'y'),(9.8,0.35,'y'),(10.2,0.33,'y'),
           (12.5,0.33,'y'),(16.8,0.33,'y'),(17.2,0.32,'y'),(20.0,0.22,'y'),(22.0,0.14,'y'),(24.0,0.04,'y')]
OR_1906 = [(0,0.44),(1.5,0.38),(3.0,0.35),(3.96,0.32),(5.0,0.35),(6.0,0.40),(6.74,0.48),(7.67,0.53),(9.21,0.61),(9.98,0.70),(10.6,0.83),(11.06,0.92),(11.52,0.98),(12.0,0.96),(12.6,0.91),(13.1,0.92),(13.68,0.97),(14.15,0.92),(15.07,0.86),(16.15,0.79),(16.93,0.70),(17.4,0.67),(18.47,0.64),(20.0,0.57),(21.56,0.50),(23.1,0.46),(24.0,0.45)]
LB_1906 = [(0,0.91,0.94),(4,0.93,0.96),(7.5,0.94,0.97),(9.5,0.90,0.94),(11,0.78,0.90),(12,0.72,0.88),(13.5,0.68,0.86),(14.5,0.75,0.88),(15.5,0.80,0.92),(17,0.86,0.95),(18.5,0.93,0.97),(24,0.96,0.98)]
BLK_1906 = [(0,0.9),(1.0,1.2),(1.3,24.0)]
GAP_1906 = [0.4,0.55,1.9,2.4,3.2,3.5,4.5,5.0,5.7,6.4,7.7,8.3,8.9,9.2,9.8,10.3,11.0,12.0,13.4,14.1,15.1,16.0,16.9,17.9,18.6,19.5,20.3,20.9,21.6,22.3,23.0,23.5]
GRN_1906 = [(0,0.9)]

# ---------------- 20.06 ----------------
RY_2006 = [(0,0.04,'y'),(1.17,0.03,'y'),(2.88,0.01,'y'),(6.3,0.01,'y'),(7.16,0.02,'y'),(8.45,0.06,'y'),(9.9,0.07,'y'),(10.16,0.11,'y'),(10.59,0.15,'y'),(11.1,0.18,'y'),(11.96,0.25,'y'),(12.38,0.22,'y'),
           (12.81,0.26,'y'),(13.5,0.23,'y'),(14.1,0.29,'y'),(14.95,0.30,'y'),(15.81,0.26,'y'),(17.0,0.28,'y'),(17.95,0.22,'y'),(19.67,0.15,'y'),(21.38,0.09,'y'),(24.0,0.01,'y')]
OR_2006 = [(0,0.44),(3.0,0.44),(6.9,0.44),(7.5,0.47),(8.45,0.53),(9.73,0.51),(9.98,0.53),(10.25,0.65),(10.59,0.72),(10.85,0.67),(11.1,0.74),(11.96,0.80),(12.21,0.67),(12.81,0.74),(13.15,0.69),(13.67,0.80),(14.1,0.78),(14.53,0.72),(15.2,0.74),(15.81,0.67),(16.24,0.70),(17.0,0.70),(17.25,0.65),(17.95,0.63),(18.8,0.59),(19.67,0.56),(20.52,0.52),(21.38,0.48),(22.24,0.46),(23.1,0.44),(24.0,0.44)]
LB_2006 = [(0,0.97,0.99),(3.35,0.98,1.0),(3.42,0.0,0.02),(12.38,0.0,0.01),(12.81,0.23,0.25),(13.24,0.64,0.66),(13.58,0.82,0.84),(13.76,0.92,0.94),(14.53,0.95,0.97),(17.1,0.93,0.95),(18.8,0.96,0.98),(24.0,0.98,1.0)]
BLK_2006 = [(0,0.8),(0.9,24.0)]
GAP_2006 = [1.08,1.59,2.07,2.79,3.09,3.35,6.9,7.16,7.59,7.85,8.7,9.9,14.27,14.61,16.15,17.4,17.55,18.72,18.98,19.58,20.09,20.22,20.43,20.86,21.12,21.55,21.89,22.15,22.4,22.83,23.26,23.52,23.78]
GRN_2006 = []

RY_ALL = [RY_1006, RY_1106, RY_1206, RY_1306, RY_1406, RY_1506, RY_1606, RY_1706, RY_1806, RY_1906, RY_2006]
OR_ALL = [OR_1006, OR_1106, OR_1206, OR_1306, OR_1406, OR_1506, OR_1606, OR_1706, OR_1806, OR_1906, OR_2006]
LB_ALL = [LB_1006, LB_1106, LB_1206, LB_1306, LB_1406, LB_1506, LB_1606, LB_1706, LB_1806, LB_1906, LB_2006]
BLK_ALL = [BLK_1006, BLK_1106, BLK_1206, BLK_1306, BLK_1406, BLK_1506, BLK_1606, BLK_1706, BLK_1806, BLK_1906, BLK_2006]
GAP_ALL = [GAP_1006, GAP_1106, GAP_1206, GAP_1306, GAP_1406, GAP_1506, GAP_1606, GAP_1706, GAP_1806, GAP_1906, GAP_2006]
GRN_ALL = [GRN_1006, GRN_1106, GRN_1206, GRN_1306, GRN_1406, GRN_1506, GRN_1606, GRN_1706, GRN_1806, GRN_1906, GRN_2006]

# ---------------- styling ----------------
W, H = 1043, 1066
X0, X1 = 88, 1022
TOP, BOT = 14, 1008
STRIP_X0 = 10
EDGE = '#7f7f7f'
C_RED, C_YEL, C_ORA, C_LB, C_GRN = '#ff0000', '#ffff00', '#ffa500', '#add8e6', '#00ff00'


def ry_frame(pts):
    rows = []
    run = 0
    prev = None
    for k in range(len(pts) - 1):
        h0, v0, c = pts[k]
        h1, v1, _ = pts[k + 1]
        if c != prev:
            run += 1
            rows.append((run, h0, v0, c))
            prev = c
        rows.append((run, h1, v1, c))
    return pd.DataFrame(rows, columns=['run', 'h', 'v', 'c'])


fig = plt.figure(figsize=(W / 100, H / 100), dpi=100)
n = len(DAYS)
ph = (BOT - TOP) / n
for i, day in enumerate(DAYS):
    y_top = TOP + i * ph
    rect = [X0 / W, 1 - (y_top + ph) / H, (X1 - X0) / W, ph / H]
    ax = fig.add_axes(rect)
    ax.set_xlim(0, 24)
    ax.set_ylim(0, 1)

    # light blue band
    lb = pd.DataFrame(LB_ALL[i], columns=['h', 'lo', 'hi'])
    ax.fill_between(lb['h'], lb['lo'], lb['hi'], color=C_LB, alpha=0.75, lw=0, zorder=1)
    sns.lineplot(data=lb, x='h', y='hi', color=C_LB, lw=0.9, ax=ax, zorder=1)

    # orange
    od = pd.DataFrame(OR_ALL[i], columns=['h', 'v'])
    sns.lineplot(data=od, x='h', y='v', color=C_ORA, lw=1.1, ax=ax, zorder=2, sort=False)

    # red / yellow
    rd = ry_frame(RY_ALL[i])
    sns.lineplot(data=rd, x='h', y='v', hue='c', units='run', estimator=None, sort=False,
                 palette={'r': C_RED, 'y': C_YEL}, legend=False, lw=1.1, ax=ax, zorder=3)

    # black and green state bars
    if BLK_ALL[i]:
        ax.broken_barh([(s, e - s) for s, e in BLK_ALL[i]], (0.35, 0.10), facecolors='black', zorder=5)
    if GAP_ALL[i]:
        ax.vlines(GAP_ALL[i], 0.35, 0.45, colors='#e8e8e8', lw=0.6, zorder=6)
    if GRN_ALL[i]:
        ax.broken_barh([(s, e - s) for s, e in GRN_ALL[i]], (0.15, 0.10), facecolors=C_GRN, zorder=5)

    ax.set_xlabel('')
    ax.set_ylabel('')
    ax.set_yticks([])
    for sp in ax.spines.values():
        sp.set_color(EDGE)
        sp.set_linewidth(1.3)
    if i == n - 1:
        ax.set_xticks(TICK_HOURS)
        ax.set_xticklabels(TICK_LABELS)
        ax.tick_params(axis='x', length=7, width=1, color=EDGE, labelsize=8.5, labelcolor='#555555', pad=2, bottom=True)
    else:
        ax.set_xticks([])

    # strip with date label
    sax = fig.add_axes([STRIP_X0 / W, 1 - (y_top + ph) / H, (X0 - STRIP_X0) / W, ph / H])
    sax.set_facecolor('#e5e5e5')
    sax.set_xticks([])
    sax.set_yticks([])
    for sp in sax.spines.values():
        sp.set_color(EDGE)
        sp.set_linewidth(1.3)
    sax.text(0.5, 0.5, day, ha='center', va='center', fontsize=12, color='#333333', transform=sax.transAxes)

fig.text(((X0 + X1) / 2) / W, 1 - 1053 / H, 'Time [h]', ha='center', va='center', fontsize=14.5, color='#333333')

fig.savefig('out.png', dpi=100, facecolor='white')
